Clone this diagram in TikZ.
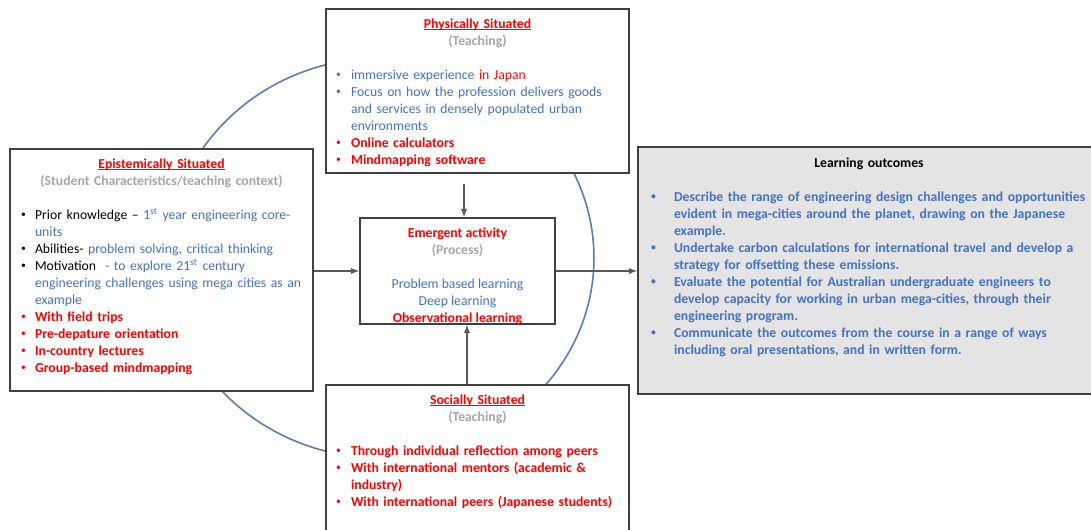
\documentclass[tikz,border=0pt]{standalone}
\usepackage{fontspec}
\setmainfont{Carlito}
\usepackage{tikz}
\usetikzlibrary{
        arrows,
        positioning,
        shapes
    }
\definecolor{txtblue}{HTML}{4472C4}
\definecolor{txtred}{HTML}{FF0000}
\definecolor{txtgrey}{HTML}{A6A6A6}
\definecolor{boxline}{HTML}{404040}
\definecolor{lobg}{HTML}{E4E4E4}
\definecolor{ringblue}{HTML}{5A7AB4}
\newlength{\bulind}
\newlength{\bulsep}
\newcommand{\dotmark}{\raisebox{0.8pt}{\fontsize{5.5}{6}\selectfont\textbullet}}
\newcommand{\bitem}[2][black]{\hspace*{\bulind}\makebox[\bulsep][l]{\textcolor{#1}{\dotmark}}#2}
\newcommand{\bcont}[1]{\hspace*{\bulind}\hspace*{\bulsep}#1}
\newcommand{\headul}[1]{\setbox0=\hbox{#1}\rlap{\rule[-1.3pt]{\wd0}{0.55pt}}\box0}
\newcommand{\boxhead}[2]{{\centering\textbf{#1}\\\textbf{\textcolor{txtgrey}{#2}}\par}\vspace{\baselineskip}}
\tikzset{>=latex,node distance=2cm}
\tikzset{
    frame/.style={draw=boxline,line width=1.1pt,fill=white,rectangle,inner sep=0pt},
    boxtext/.style={inner sep=0pt,font=\fontsize{7.8}{9.68}\selectfont},
    link/.style={->,draw=black!65,line width=0.6pt},
    ring/.style={draw=ringblue,line width=0.9pt}
}

\begin{document}
\begin{tikzpicture}[x=0.02cm,y=-0.02cm]
    \useasboundingbox (0,0) rectangle (1091,530);
    \draw[ring] (381,258) ellipse [x radius=4.26cm, y radius=4cm];

    \node[frame, minimum width=6.06cm, minimum height=3.28cm] (phys)  at (477.5,91)  {};
    \node[frame, minimum width=6.06cm, minimum height=4.84cm] (epist) at (161.5,270) {};
    \node[frame, minimum width=3.9cm,  minimum height=2.12cm] (emer)  at (457.5,271) {};
    \node[frame, minimum width=6.06cm, minimum height=3.2cm]  (soc)   at (477.5,465) {};
    \node[frame, fill=lobg, minimum width=9.24cm, minimum height=4.94cm] (learn) at (869,270.5) {};

    \node[boxtext, text width=6.06cm, below=0.2cm of phys.north] (phystxt) {%
        \setlength{\bulind}{0.2cm}\setlength{\bulsep}{0.3cm}%
        \boxhead{\textcolor{txtred}{\headul{Physically Situated}}}{(Teaching)}
        \raggedright
        \bitem[txtblue]{\textcolor{txtblue}{immersive experience} \textcolor{txtred}{in Japan}}\\
        \bitem[txtblue]{\textcolor{txtblue}{Focus on how the profession delivers goods}}\\
        \bcont{\textcolor{txtblue}{and services in densely populated urban}}\\
        \bcont{\textcolor{txtblue}{environments}}\\
        \bitem[txtred]{\textcolor{txtred}{\textbf{Online calculators}}}\\
        \bitem[txtred]{\textcolor{txtred}{\textbf{Mindmapping software}}}};

    \node[boxtext, text width=6.06cm, below=0.2cm of epist.north] (episttxt) {%
        \setlength{\bulind}{0.22cm}\setlength{\bulsep}{0.28cm}%
        \boxhead{\textcolor{txtred}{\headul{Epistemically Situated}}}{(Student Characteristics/teaching context)}
        \raggedright
        \bitem{Prior knowledge -- \textcolor{txtblue}{1\textsuperscript{st} year engineering core-}}\\
        \bcont{\textcolor{txtblue}{units}}\\
        \bitem{Abilities- \textcolor{txtblue}{problem solving, critical thinking}}\\
        \bitem{Motivation\ \ \textcolor{txtblue}{- to explore 21\textsuperscript{st} century}}\\
        \bcont{\textcolor{txtblue}{engineering challenges using mega cities as an}}\\
        \bcont{\textcolor{txtblue}{example}}\\
        \bitem[txtred]{\textcolor{txtred}{\textbf{With field trips}}}\\
        \bitem[txtred]{\textcolor{txtred}{\textbf{Pre-depature orientation}}}\\
        \bitem[txtred]{\textcolor{txtred}{\textbf{In-country lectures}}}\\
        \bitem[txtred]{\textcolor{txtred}{\textbf{Group-based mindmapping}}}};

    \node[boxtext, align=center, below=0.2cm of emer.north] (emertxt) {%
        \textcolor{txtred}{\textbf{Emergent activity}}\\
        \textcolor{txtgrey}{\textbf{(Process)}}\\[9.68pt]
        \textcolor{txtblue}{Problem based learning}\\
        \textcolor{txtblue}{Deep learning}\\
        \textcolor{txtred}{\textbf{Observational learning}}};

    \node[boxtext, text width=6.06cm, below=0.2cm of soc.north] (soctxt) {%
        \setlength{\bulind}{0.2cm}\setlength{\bulsep}{0.3cm}%
        \boxhead{\textcolor{txtred}{\headul{Socially Situated}}}{(Teaching)}
        \raggedright
        \bitem[txtred]{\textcolor{txtred}{\textbf{Through individual reflection among peers}}}\\
        \bitem[txtred]{\textcolor{txtred}{\textbf{With international mentors (academic \&}}}\\
        \bcont{\textcolor{txtred}{\textbf{industry)}}}\\
        \bitem[txtred]{\textcolor{txtred}{\textbf{With international peers (Japanese students)}}}};

    \node[boxtext, text width=9.24cm, below=0.22cm of learn.north] (learntxt) {%
        \setlength{\bulind}{0.26cm}\setlength{\bulsep}{0.46cm}%
        {\centering\textbf{Learning outcomes}\par}\vspace{\baselineskip}
        \raggedright\bfseries\color{txtblue}
        \bitem[txtblue]{Describe the range of engineering design challenges and opportunities}\\
        \bcont{evident in mega-cities around the planet, drawing on the Japanese}\\
        \bcont{example.}\\
        \bitem[txtblue]{Undertake carbon calculations for international travel and develop a}\\
        \bcont{strategy for offsetting these emissions.}\\
        \bitem[txtblue]{Evaluate the potential for Australian undergraduate engineers to}\\
        \bcont{develop capacity for working in urban mega-cities, through their}\\
        \bcont{engineering program.}\\
        \bitem[txtblue]{Communicate the outcomes from the course in a range of ways}\\
        \bcont{including oral presentations, and in written form.}};

    \coordinate (pdrop) at (464,184);
    \coordinate (srise) at (467,0);
    \draw[link] (pdrop) -- (pdrop |- emer.north);
    \draw[link] (soc.north -| srise) -- (emer.south -| srise);
    \draw[link] (epist.east |- emer.west) -- (emer.west);
    \draw[link] (emer.east) -- (emer.east -| learn.west);
\end{tikzpicture}
\end{document}
